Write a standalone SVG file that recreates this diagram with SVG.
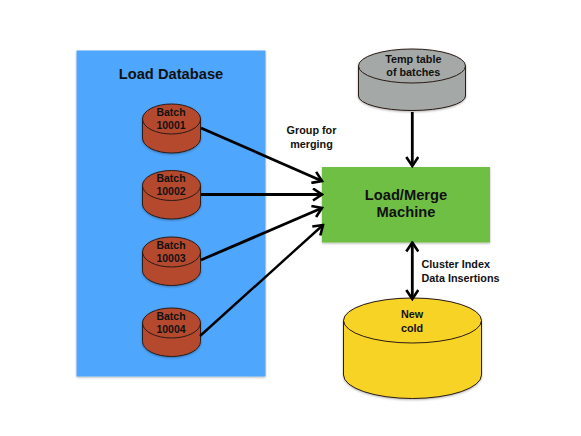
<svg xmlns="http://www.w3.org/2000/svg" width="581" height="436" viewBox="0 0 581 436">
<defs>
<filter id="sh" x="-10%" y="-10%" width="120%" height="125%"><feDropShadow dx="0" dy="1" stdDeviation="0.8" flood-color="#000" flood-opacity="0.3"/></filter>
<marker id="open" viewBox="0 0 14 14" refX="12" refY="7" markerWidth="14" markerHeight="14" markerUnits="userSpaceOnUse" orient="auto-start-reverse"><path d="M3 1L12 7L3 13" fill="none" stroke="#000" stroke-width="2.6"/></marker>
</defs>
<style>
text{font-family:"Liberation Sans",Arial,sans-serif;font-weight:bold;fill:#111;text-anchor:middle}
.s{font-size:10.8px}
.b{font-size:10.5px}
.h{font-size:14.7px}
.l{text-anchor:start}
.c{stroke:#2a1a14;stroke-width:1}
.a{fill:none;stroke:#000;stroke-width:2.8;marker-end:url(#open)}
.red{fill:#b5492f}
</style>
<rect width="581" height="436" fill="#fff"/>
<g id="load-database"><rect x="76.500" y="50.500" width="189" height="326" fill="#4fa6fd" filter="url(#sh)"/><text class="h" x="171" y="79">Load Database</text></g>
<g id="batch-10001"><path class="c red" d="M142.500 119A29 15 0 0 1 200.500 119V138A29 15 0 0 1 142.500 138Z" filter="url(#sh)"/><path class="c" fill="none" d="M142.500 119A29 15 0 0 0 200.500 119"/><text class="b" x="171" y="116">Batch</text><text class="b" x="171" y="129">10001</text></g>
<g id="batch-10002"><path class="c red" d="M142.500 185.500A29 15 0 0 1 200.500 185.500V204A29 15 0 0 1 142.500 204Z" filter="url(#sh)"/><path class="c" fill="none" d="M142.500 185.500A29 15 0 0 0 200.500 185.500"/><text class="b" x="171" y="182">Batch</text><text class="b" x="171" y="195">10002</text></g>
<g id="batch-10003"><path class="c red" d="M142.500 252A29 15 0 0 1 200.500 252V270.500A29 15 0 0 1 142.500 270.500Z" filter="url(#sh)"/><path class="c" fill="none" d="M142.500 252A29 15 0 0 0 200.500 252"/><text class="b" x="171" y="249">Batch</text><text class="b" x="171" y="262">10003</text></g>
<g id="batch-10004"><path class="c red" d="M142.500 323A29 15 0 0 1 200.500 323V341.500A29 15 0 0 1 142.500 341.500Z" filter="url(#sh)"/><path class="c" fill="none" d="M142.500 323A29 15 0 0 0 200.500 323"/><text class="b" x="171" y="320">Batch</text><text class="b" x="171" y="333">10004</text></g>
<g id="temp-table"><path class="c" fill="#a4a8a6" d="M358.500 66A53.500 17 0 0 1 465.500 66V96A53.500 14.500 0 0 1 358.500 96Z" filter="url(#sh)"/><path class="c" fill="none" d="M358.500 66A53.500 17 0 0 0 465.500 66"/><text class="s" x="413.300" y="63">Temp table</text><text class="s" x="413.300" y="76">of batches</text></g>
<g id="load-merge"><rect x="322" y="167" width="168" height="75.500" fill="#6fbf44" filter="url(#sh)"/><text class="h" x="406" y="200">Load/Merge</text><text class="h" x="406" y="217">Machine</text></g>
<g id="new-cold"><path class="c" fill="#f7d325" d="M343.500 320.500A69 22.500 0 0 1 481.500 320.500V375A69 23.500 0 0 1 343.500 375Z" filter="url(#sh)"/><path class="c" fill="none" d="M343.500 320.500A69 22.500 0 0 0 481.500 320.500"/><text class="s" x="412" y="318">New</text><text class="s" x="412" y="331.500">cold</text></g>
<g id="connectors">
<path class="a" d="M201 128L322 181"/>
<path class="a" style="stroke-width:3" d="M201 194.500L322 194.500"/>
<path class="a" d="M201 260L322 208"/>
<path class="a" style="stroke-width:2.4" d="M200 336L323 225"/>
<path class="a" d="M412.300 112L412.300 166"/>
<path class="a" style="marker-start:url(#open)" d="M412.300 242.500L412.300 299"/>
</g>
<g id="labels">
<text class="s" x="311.500" y="134">Group for</text><text class="s" x="311.500" y="148">merging</text>
<text class="s l" x="421.500" y="268">Cluster Index</text><text class="s l" x="421.500" y="281.500">Data Insertions</text>
</g>
</svg>
